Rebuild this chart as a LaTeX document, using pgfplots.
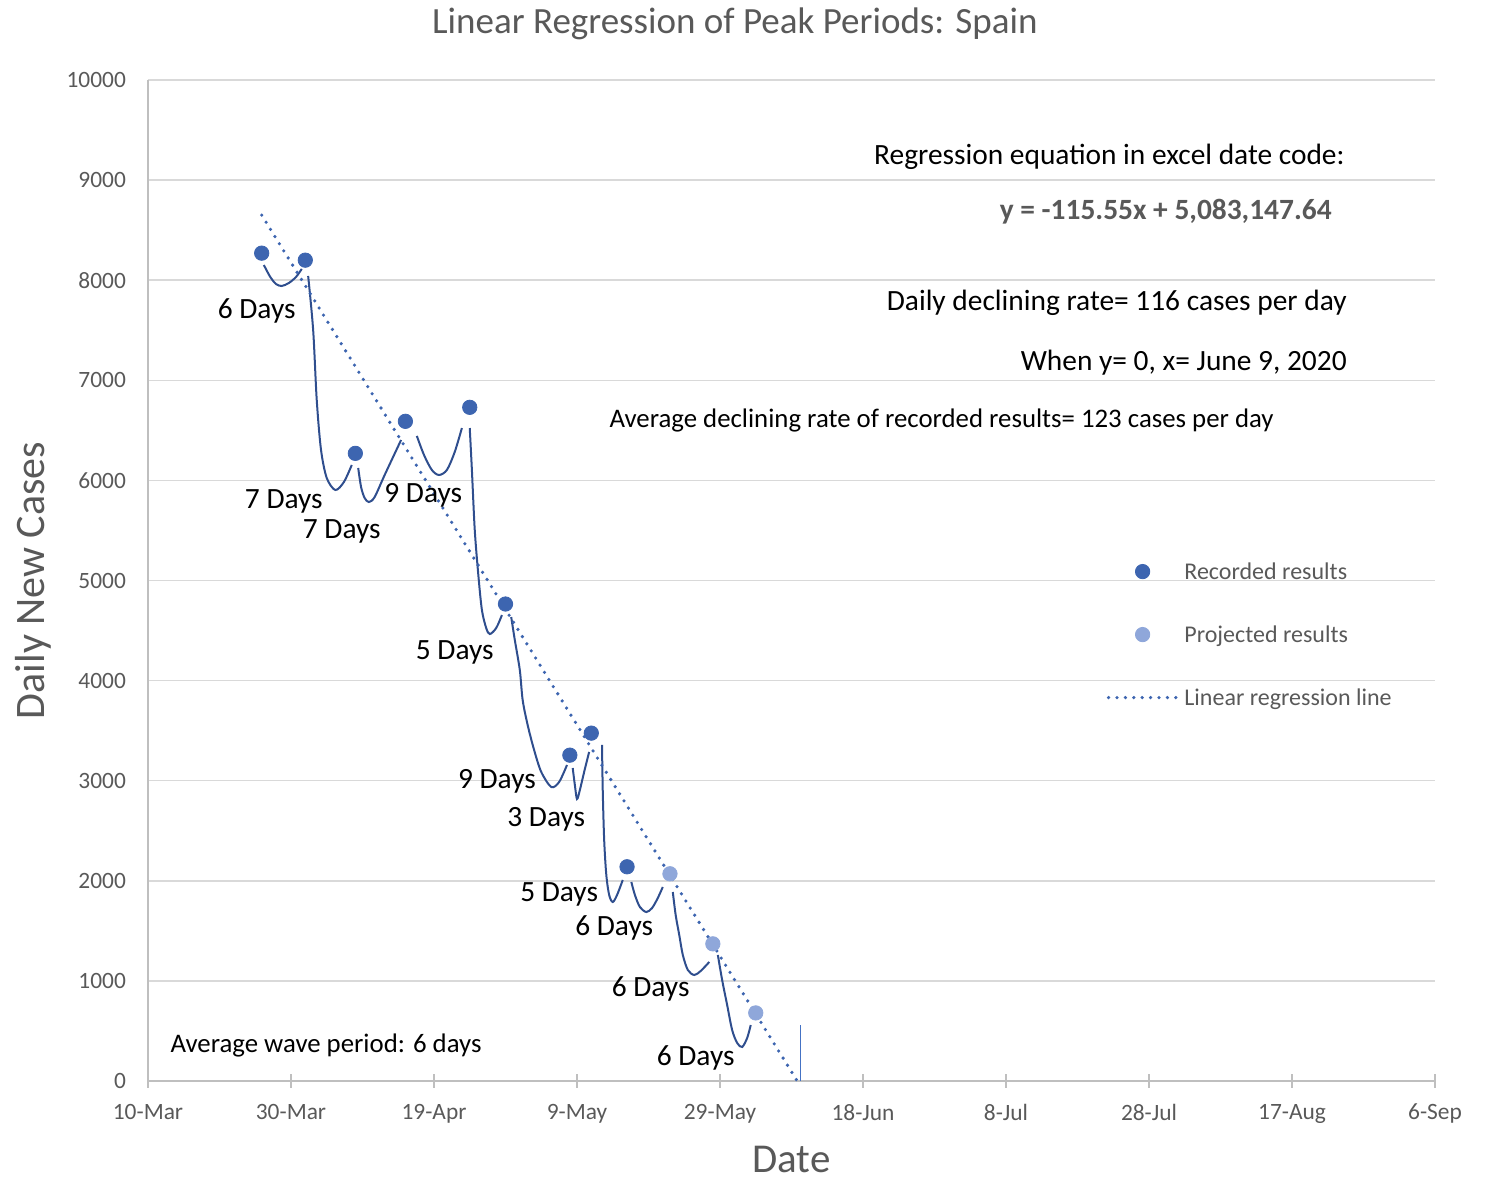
\documentclass[border=0pt]{standalone}
\usepackage{pgfplots}
\pgfplotsset{compat=1.18}
\usepackage{fontspec}
\setmainfont{Carlito}
\definecolor{gridgray}{HTML}{D9D9D9}
\definecolor{axgray}{HTML}{BFBFBF}
\definecolor{txtgray}{HTML}{595959}
\definecolor{recblue}{HTML}{3D65B0}
\definecolor{projblue}{HTML}{8FA7DA}
\definecolor{curveblue}{HTML}{2F4E8E}
\definecolor{vblue}{HTML}{4472C4}
\newcommand{\lbl}{\fontsize{14.7}{17}\selectfont}
\newcommand{\sml}{\fontsize{13.4}{16}\selectfont}
\pgfplotsset{
  markleg/.style={legend image code/.code={\draw[##1] plot coordinates {(17pt,1.2pt)};}},
  lineleg/.style={legend image code/.code={\draw[##1] (0pt,1.2pt) -- (34pt,1.2pt);}},
}
\begin{document}
\begin{tikzpicture}
\path[use as bounding box] (-74pt,-50.5pt) rectangle (673pt,540.5pt);
\begin{axis}[
  at={(0,0)}, anchor=south west, scale only axis,
  width=643.5pt, height=500.5pt,
  xmin=0, xmax=180, ymin=0, ymax=10000,
  axis x line*=bottom, axis y line*=left,
  axis line style={axgray, line width=0.7pt},
  xtick={0,20,...,180},
  xticklabels={10-Mar,30-Mar,19-Apr,9-May,29-May,18-Jun,8-Jul,28-Jul,17-Aug,6-Sep},
  ytick={0,1000,...,10000},
  scaled y ticks=false,
  ymajorgrids, grid style={gridgray, line width=0.75pt},
  tick align=center, major tick length=7pt,
  xtick style={axgray, line width=0.7pt},
  ytick style={draw=none},
  ticklabel style={font=\fontsize{11.7}{14}\selectfont, text=txtgray},
  yticklabel style={xshift=-4pt},
  xticklabel style={yshift=-4.5pt},
  /pgf/number format/1000 sep={},
  /pgf/number format/assume math mode=true,
  clip=false,
  legend style={draw=none, fill=none, at={(0.745,0.5185)}, anchor=north west,
    inner sep=0pt, outer sep=0pt, row sep=19.5pt,
    font=\fontsize{12}{14}\selectfont, text=txtgray,
    nodes={inner sep=0pt, text height=9pt, text depth=3pt},
    /tikz/every odd column/.append style={column sep=3pt}},
  legend cell align=left,
]
% wave curves
\addplot[curveblue, line width=1pt, smooth, forget plot] coordinates {(16.2,8152)(17.1,8032)(17.9,7962)(18.7,7942)(19.7,7972)(20.7,8032)(21.5,8112)};
\addplot[curveblue, line width=1pt, smooth, forget plot] coordinates {(22.4,8042)(23.1,7502)(23.6,6803)(24.2,6304)(25.0,6024)(26.2,5904)(27.4,5984)(28.5,6154)};
\addplot[curveblue, line width=1pt, smooth, forget plot] coordinates {(29.4,6124)(29.8,5934)(30.3,5824)(30.9,5784)(31.7,5834)(33.1,6054)(35.4,6404)};
\addplot[curveblue, line width=1pt, smooth, forget plot] coordinates {(37.6,6444)(38.6,6254)(39.7,6104)(40.7,6054)(41.8,6104)(42.9,6284)(43.9,6523)};
\addplot[curveblue, line width=1pt, smooth, forget plot] coordinates {(45.0,6523)(45.3,6104)(45.7,5504)(46.2,5055)(46.7,4705)(47.3,4525)(47.8,4465)(48.7,4525)(49.5,4655)};
\addplot[curveblue, line width=1pt, smooth, forget plot] coordinates {(50.8,4635)(51.3,4406)(52.0,4106)(52.4,3806)(53.1,3556)(54.0,3307)(55.0,3087)(56.4,2937)(57.5,2987)(58.6,3157)};
\addplot[curveblue, line width=1pt, smooth, forget plot] coordinates {(59.4,3127)(59.7,2957)(60.0,2817)(60.4,2907)(61.0,3087)(61.7,3287)};
\addplot[curveblue, line width=1pt, smooth, forget plot] coordinates {(63.5,3357)(63.6,2907)(63.8,2408)(64.1,2058)(64.5,1858)(65.0,1788)(65.6,1858)(66.4,2008)};
\addplot[curveblue, line width=1pt, smooth, forget plot] coordinates {(67.6,1988)(68.1,1858)(68.8,1738)(69.7,1688)(70.5,1728)(71.3,1828)(72.0,1938)};
\addplot[curveblue, line width=1pt, smooth, forget plot] coordinates {(73.4,1888)(73.8,1658)(74.3,1459)(74.8,1259)(75.5,1109)(76.4,1059)(77.3,1099)(78.5,1189)};
\addplot[curveblue, line width=1pt, smooth, forget plot] coordinates {(79.7,1259)(80.3,1009)(81.0,759)(81.7,509)(82.4,380)(83.1,340)(83.8,430)(84.3,559)};
% vertical marker line
\addplot[vblue, line width=0.5pt, forget plot] coordinates {(91.2,0)(91.2,560)};
% recorded
\addplot[only marks, mark=*, mark size=3.6pt, color=recblue, markleg]
  coordinates {(15.9,8270)(22.0,8200)(29.0,6270)(36.0,6590)(45.0,6730)(50.0,4765)(59.0,3255)(62.0,3475)(67.0,2140)};
\addlegendentry{Recorded results}
% projected
\addplot[only marks, mark=*, mark size=3.6pt, color=projblue, markleg]
  coordinates {(73.0,2070)(79.0,1370)(85.0,680)};
\addlegendentry{Projected results}
% regression line
\addplot[recblue, line width=1.8pt, dash pattern=on 0pt off 4.2pt, line cap=round, lineleg]
  coordinates {(15.9,8650)(90.8,0)};
\addlegendentry{Linear regression line}
% day labels
\node[font=\lbl] at (axis cs:15.2,7692) {6 Days};
\node[font=\lbl] at (axis cs:19.0,5794) {7 Days};
\node[font=\lbl] at (axis cs:27.1,5494) {7 Days};
\node[font=\lbl] at (axis cs:38.5,5854) {9 Days};
\node[font=\lbl] at (axis cs:42.9,4286) {5 Days};
\node[font=\lbl] at (axis cs:48.8,2997) {9 Days};
\node[font=\lbl] at (axis cs:55.7,2617) {3 Days};
\node[font=\lbl] at (axis cs:57.5,1868) {5 Days};
\node[font=\lbl] at (axis cs:65.2,1528) {6 Days};
\node[font=\lbl] at (axis cs:70.3,919) {6 Days};
\node[font=\lbl] at (axis cs:76.6,230) {6 Days};
% annotations
\node[font=\lbl, anchor=east, inner sep=0pt] at (axis cs:167.4,9231) {Regression equation in excel date code:};
\node[font=\lbl\bfseries, text=txtgray, anchor=east, inner sep=0pt] at (axis cs:165.6,8681) {y = -115.55x + 5,083,147.64};
\node[font=\lbl, anchor=east, inner sep=0pt] at (axis cs:167.7,7772) {Daily declining rate= 116 cases per day};
\node[font=\lbl, anchor=east, inner sep=0pt] at (axis cs:167.7,7173) {When y= 0, x= June 9, 2020};
\node[font=\sml, anchor=west, inner sep=0pt] at (axis cs:64.5,6603) {Average declining rate of recorded results= 123 cases per day};
\node[font=\sml, anchor=west, inner sep=0pt] at (axis cs:3.1,350) {Average wave period: 6 days};
% titles
\node[font=\fontsize{18.5}{22}\selectfont, text=txtgray] at ([yshift=28pt]rel axis cs:0.456,1) {Linear Regression of Peak Periods: Spain};
\node[font=\fontsize{21}{25}\selectfont, text=txtgray, rotate=90] at ([xshift=-57.5pt]rel axis cs:0,0.5) {Daily New Cases};
\node[font=\fontsize{20.5}{24}\selectfont, text=txtgray, inner sep=1pt] at ([yshift=-39.5pt]rel axis cs:0.5,0) {Date};
\end{axis}
\end{tikzpicture}
\end{document}
